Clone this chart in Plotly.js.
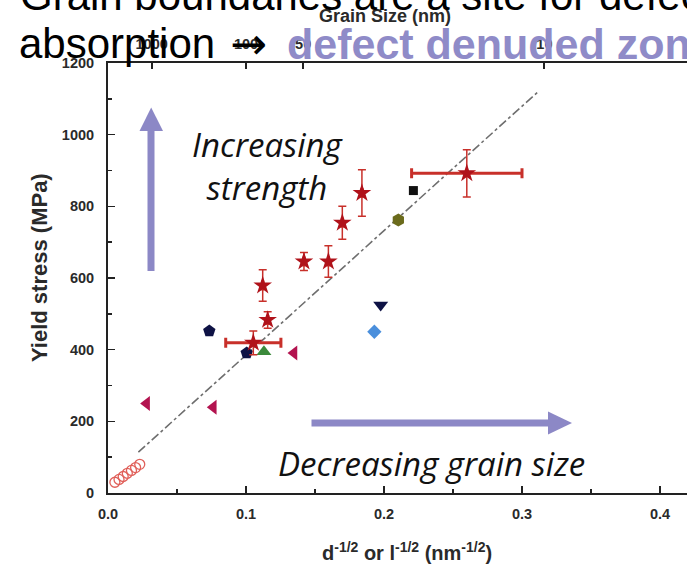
<!DOCTYPE html>
<html>
<head>
<meta charset="utf-8">
<script src="https://cdn.plot.ly/plotly-3.0.1.min.js"></script>
<style>html,body{margin:0;padding:0;background:#fff;}#chart{width:687px;height:567px;}</style>
</head>
<body>
<div id="chart"></div>
<script>
// ---- data (x = d^-1/2 or l^-1/2 in nm^-1/2, y = yield stress MPa) ----
const starX = [0.1053, 0.1121, 0.1157, 0.142, 0.1597, 0.1698, 0.184, 0.26];
const starY = [419, 579, 483, 646, 646, 754, 837, 892];
const starErrY = [33, 44, 23, 25, 44, 46, 65, 66];
const starErrX = [0.02, 0, 0, 0, 0, 0, 0, 0.04];

const openCircX = [0.005, 0.008, 0.011, 0.014, 0.017, 0.020, 0.023];
const openCircY = [30, 38, 46, 55, 63, 71, 80];

const pentX = [0.0734, 0.1005];
const pentY = [452, 391];
const triLeftX = [0.028, 0.0763, 0.1348];
const triLeftY = [250, 239, 391];
const triUpX = [0.113];
const triUpY = [394];
const triDownX = [0.1976];
const triDownY = [525];
const diamondX = [0.193];
const diamondY = [450];
const hexX = [0.2104];
const hexY = [762];
const squareX = [0.2213];
const squareY = [844];

const fitX = [0.022, 0.312];
const fitY = [114, 1121];

const xTicks = [0, 0.1, 0.2, 0.3, 0.4];
const xTickText = ['0.0', '0.1', '0.2', '0.3', '0.4'];
const yTicks = [0, 200, 400, 600, 800, 1000, 1200];
const grainSizes = [1000, 100, 50, 10];

// ---- layout helpers (pixel -> paper) ----
const L = 108, R = 687, T = 63, B = 493;
const px = v => (v - L) / (R - L);
const py = v => (B - v) / (B - T);

const FONT = 'Liberation Sans, Arial, sans-serif';
const tickFont = {family: FONT, size: 14.5, color: '#2a2a2a', weight: 'bold'};
const arrowCol = '#8c88c6';

const traces = [
  {x: fitX, y: fitY, mode: 'lines', line: {color: '#6e6e6e', width: 1.6, dash: 'dashdot'}, hoverinfo: 'skip'},
  {x: openCircX, y: openCircY, mode: 'markers',
   marker: {symbol: 'circle-open', size: 10, color: '#e0605a', line: {width: 1.3}}},
  {x: pentX, y: pentY, mode: 'markers', marker: {symbol: 'pentagon', size: 13, color: '#0e1245'}},
  {x: triLeftX, y: triLeftY, mode: 'markers', marker: {symbol: 'triangle-left', size: 13, color: '#b3134f'}},
  {x: triUpX, y: triUpY, mode: 'markers', marker: {symbol: 'triangle-up', size: 13, color: '#3b8a3b'}},
  {x: triDownX, y: triDownY, mode: 'markers', marker: {symbol: 'triangle-down', size: 13, color: '#0e1245'}},
  {x: diamondX, y: diamondY, mode: 'markers', marker: {symbol: 'diamond', size: 11, color: '#4a8fdc'}},
  {x: hexX, y: hexY, mode: 'markers', marker: {symbol: 'hexagon', size: 13, color: '#6b6b1c'}},
  {x: squareX, y: squareY, mode: 'markers', marker: {symbol: 'square', size: 9, color: '#111111'}},
  {x: starX, y: starY, mode: 'markers',
   marker: {symbol: 'star', size: 14, color: '#b0121a'},
   error_y: {type: 'data', array: starErrY, visible: true, color: '#c8302a', thickness: 1.5, width: 4},
   error_x: {type: 'data', array: starErrX, visible: true, color: '#c8302a', thickness: 3, width: 5}},
  {x: [], y: [], xaxis: 'x2', mode: 'markers', hoverinfo: 'skip'}
];

const layout = {
  width: 687, height: 567,
  margin: {l: L, r: 687 - R, t: T, b: 567 - B, pad: 0},
  paper_bgcolor: '#ffffff', plot_bgcolor: '#ffffff',
  showlegend: false,
  xaxis: {range: [0, (R - L) / 1380], tickvals: xTicks, ticktext: xTickText,
    ticks: 'inside', ticklen: 7, tickwidth: 1.5, tickcolor: '#222', ticklabelstandoff: 7,
    minor: {dtick: 0.05, tick0: 0, ticks: 'inside', ticklen: 4, tickcolor: '#222'},
    showline: true, linecolor: '#222', linewidth: 2, showgrid: false, zeroline: false,
    tickfont: tickFont, automargin: false},
  xaxis2: {overlaying: 'x', side: 'top', range: [0, (R - L) / 1380],
    tickvals: grainSizes.map(d => 1 / Math.sqrt(d)), ticktext: grainSizes.map(String),
    ticks: 'inside', ticklen: 6, tickwidth: 2, tickcolor: '#222', ticklabelstandoff: 6,
    showline: true, linecolor: '#222', linewidth: 2, showgrid: false, zeroline: false,
    tickfont: tickFont, automargin: false},
  yaxis: {range: [0, 1200], tickvals: yTicks,
    ticks: 'inside', ticklen: 7, tickwidth: 1.5, tickcolor: '#222', ticklabelstandoff: 9,
    minor: {dtick: 100, tick0: 0, ticks: 'inside', ticklen: 4, tickcolor: '#222'},
    showline: true, linecolor: '#222', linewidth: 2, showgrid: false, zeroline: false,
    tickfont: tickFont, automargin: false},
  shapes: [
    // vertical arrow
    {type: 'rect', xref: 'paper', yref: 'paper', x0: px(147.5), x1: px(154.5), y0: py(271), y1: py(130),
     fillcolor: arrowCol, line: {width: 0}},
    {type: 'path', xref: 'paper', yref: 'paper',
     path: `M ${px(139.5)} ${py(131)} L ${px(163)} ${py(131)} L ${px(151.2)} ${py(107.5)} Z`,
     fillcolor: arrowCol, line: {width: 0}},
    // horizontal arrow
    {type: 'rect', xref: 'paper', yref: 'paper', x0: px(311.5), x1: px(549), y0: py(426.5), y1: py(419.5),
     fillcolor: arrowCol, line: {width: 0}},
    {type: 'path', xref: 'paper', yref: 'paper',
     path: `M ${px(548)} ${py(411.5)} L ${px(548)} ${py(434.5)} L ${px(572)} ${py(423)} Z`,
     fillcolor: arrowCol, line: {width: 0}}
  ],
  annotations: [
    {text: 'Yield stress (MPa)', xref: 'paper', yref: 'paper', x: px(39), y: py(268), textangle: -90,
     showarrow: false, xanchor: 'center', yanchor: 'middle',
     font: {family: FONT, size: 22, color: '#2a2a2a', weight: 'bold'}},
    {text: 'd<sup>-1/2</sup> or l<sup>-1/2</sup> (nm<sup>-1/2</sup>)', xref: 'paper', yref: 'paper',
     x: px(407), y: py(551), showarrow: false, xanchor: 'center', yanchor: 'middle',
     font: {family: FONT, size: 20, color: '#2a2a2a', weight: 'bold'}},
    {text: 'Grain Size (nm)', xref: 'paper', yref: 'paper',
     x: px(385), y: py(16), showarrow: false, xanchor: 'center', yanchor: 'middle',
     font: {family: FONT, size: 18, color: '#2a2a2a', weight: 'bold'}},
    {text: 'Increasing<br>strength', xref: 'paper', yref: 'paper', x: px(268), y: py(166),
     showarrow: false, xanchor: 'center', yanchor: 'middle', align: 'center',
     font: {family: 'Open Sans, sans-serif', size: 33, color: '#111', style: 'italic'}},
    {text: 'Decreasing grain size', xref: 'paper', yref: 'paper', x: px(431), y: py(463),
     showarrow: false, xanchor: 'center', yanchor: 'middle',
     font: {family: 'Open Sans, sans-serif', size: 33, color: '#111', style: 'italic'}},
    {text: 'Grain boundaries are a site for defect', xref: 'paper', yref: 'paper',
     x: px(18), y: py(-5), showarrow: false, xanchor: 'left', yanchor: 'middle',
     font: {family: FONT, size: 42, color: '#000'}},
    {text: 'absorption', xref: 'paper', yref: 'paper',
     x: px(17), y: py(44), showarrow: false, xanchor: 'left', yanchor: 'middle',
     font: {family: FONT, size: 42, color: '#000'}},
    {text: '→', xref: 'paper', yref: 'paper',
     x: px(228), y: py(44), showarrow: false, xanchor: 'left', yanchor: 'middle',
     font: {family: 'DejaVu Sans, sans-serif', size: 44, color: '#000'}},
    {text: '<b>defect denuded zone</b>', xref: 'paper', yref: 'paper',
     x: px(285), y: py(44), showarrow: false, xanchor: 'left', yanchor: 'middle',
     font: {family: FONT, size: 43, color: '#8f8bc8'}}
  ]
};

Plotly.newPlot('chart', traces, layout, {staticPlot: true, displayModeBar: false});
</script>
</body>
</html>
